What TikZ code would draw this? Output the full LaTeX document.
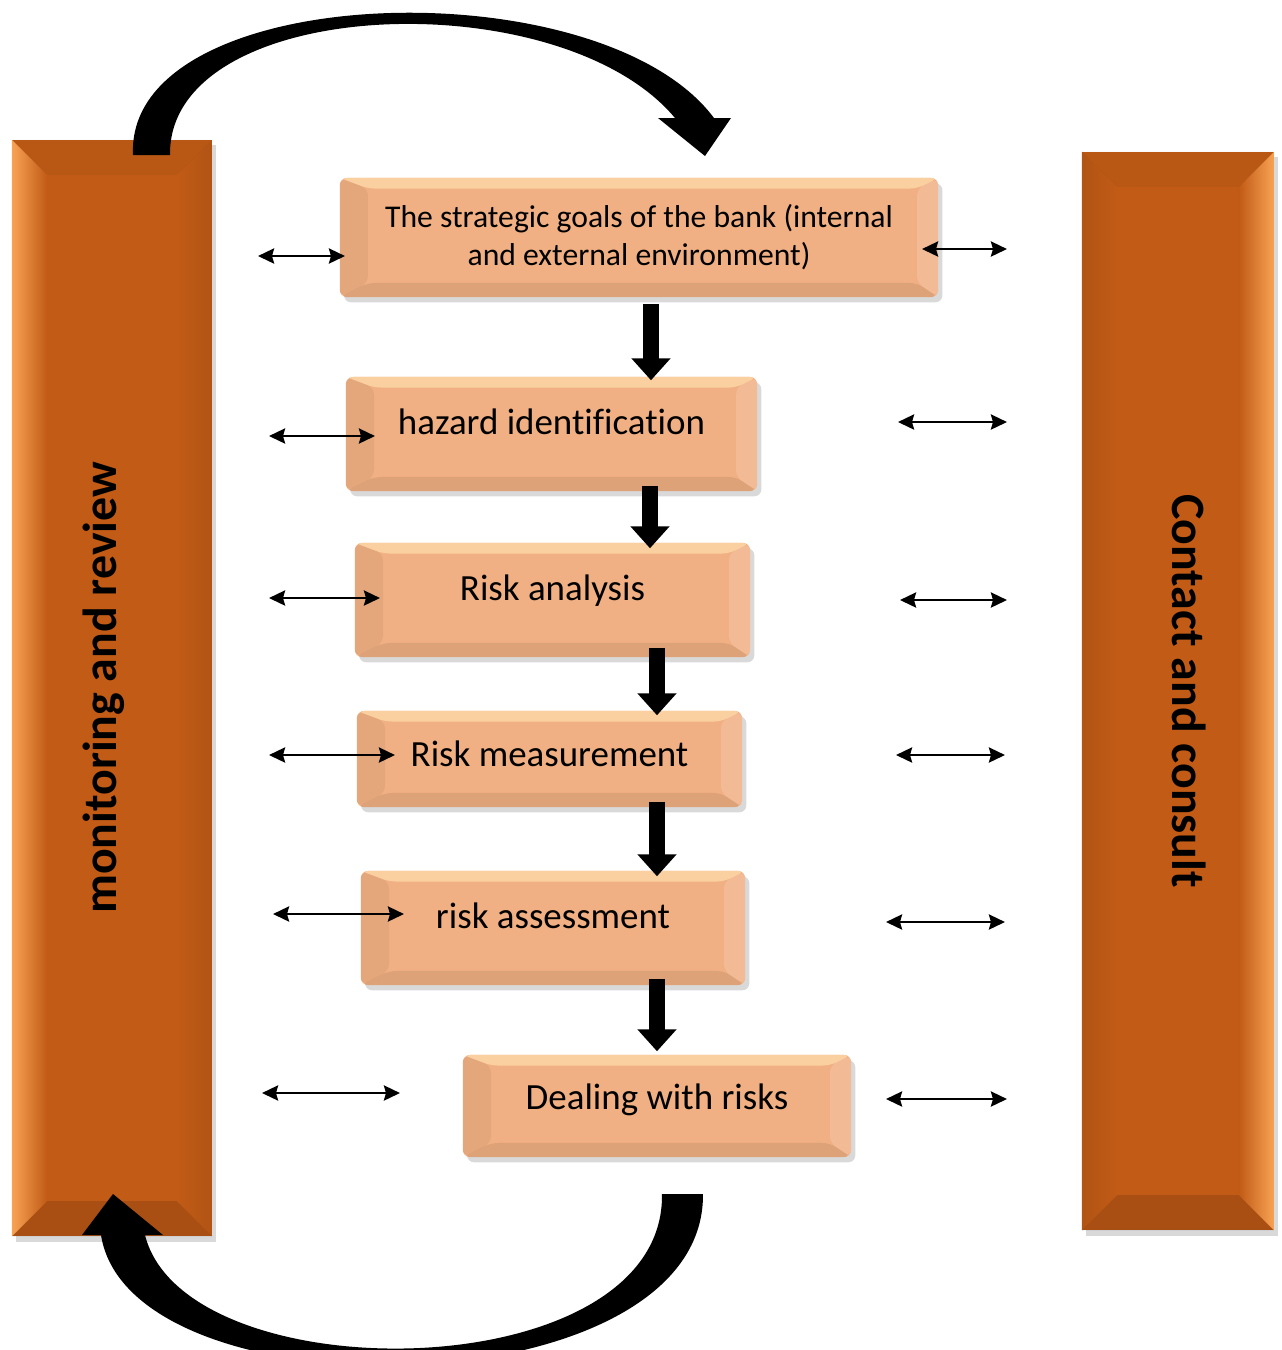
\documentclass[tikz,border=0pt]{standalone}
\usepackage{fontspec}
\setmainfont{Carlito}[Ligatures=NoCommon]
\usetikzlibrary{arrows.meta,shapes,positioning,shadows,calc}
\definecolor{barorange}{RGB}{193,91,22}
\definecolor{barlight}{RGB}{248,162,84}
\definecolor{boxpeach}{RGB}{241,176,131}
\definecolor{boxlight}{RGB}{251,208,160}
\tikzset{
  basic/.style  = {rectangle, drop shadow={opacity=.3, shadow xshift=1.2pt, shadow yshift=-1.5pt}},
  corners/.style = {insert path={
                   (path picture bounding box.north west) coordinate (pnw)
                   (path picture bounding box.north east) coordinate (pne)
                   (path picture bounding box.south west) coordinate (psw)
                   (path picture bounding box.south east) coordinate (pse)}},
  stage/.style  = {basic, rounded corners=2pt, fill=boxpeach, align=center,
                   font=\fontsize{10.5}{12.6}\selectfont, text height=2.4mm, text depth=2.4mm,
                   path picture={
                     \path[corners];
                     \fill[boxlight] (pnw) -- (pne) -- ($(pne)+(-6pt,-3pt)$) -- ($(pnw)+(8pt,-3pt)$) -- cycle;
                     \fill[black,opacity=.05] (pnw) -- ($(pnw)+(8pt,-3pt)$) -- ($(psw)+(8pt,4pt)$) -- (psw) -- cycle;
                     \fill[black,opacity=.08] (psw) -- ($(psw)+(8pt,4pt)$) -- ($(pse)+(-6pt,4pt)$) -- (pse) -- cycle;
                     \fill[white,opacity=.15] (pne) -- ($(pne)+(-6pt,-3pt)$) -- ($(pse)+(-6pt,4pt)$) -- (pse) -- cycle;
                   }},
  bar/.style 2 args = {basic, fill=barorange,
                   path picture={
                     \path[corners];
                     \shade[left color=#1, right color=barorange] (pnw) -- ($(pnw)+(10pt,-10pt)$) -- ($(psw)+(10pt,10pt)$) -- (psw) -- cycle;
                     \shade[left color=barorange, right color=#2] (pne) -- ($(pne)+(-10pt,-10pt)$) -- ($(pse)+(-10pt,10pt)$) -- (pse) -- cycle;
                     \fill[black,opacity=.04] (pnw) -- (pne) -- ($(pne)+(-10pt,-10pt)$) -- ($(pnw)+(10pt,-10pt)$) -- cycle;
                     \fill[black,opacity=.12] (psw) -- (pse) -- ($(pse)+(-10pt,10pt)$) -- ($(psw)+(10pt,10pt)$) -- cycle;
                   }},
  bar label/.style = {font=\bfseries\fontsize{13.6}{16}\selectfont},
  link/.style   = {>={Stealth[length=1.6mm,width=1.5mm,inset=0.2mm]}, <->, line width=0.8pt},
  flow/.style   = {line width=0.16cm, -{Triangle[width=0.38cm,length=0.22cm]}}
}
\begin{document}
\begin{tikzpicture}[x=0.01cm, y=-0.01cm]
  \useasboundingbox (0,0) rectangle (1282,1350);

  % the two side bars
  \node[bar={barlight}{barorange!92!black}, minimum width=2cm, minimum height=10.96cm] (lbar) at (112,688) {};
  \node[bar={barorange!92!black}{barlight}, minimum width=1.92cm, minimum height=10.78cm] (rbar) at (1178,691) {};
  \node[bar label, rotate=90] (llab) at ($(lbar)+(-8,0)$) {monitoring and review};
  \node[bar label, rotate=-90] (rlab) at ($(rbar)+(11,0)$) {Contact and consult};

  % the steps, top to bottom
  \node[stage, minimum width=5.98cm, minimum height=1.19cm, font=\fontsize{9}{10.8}\selectfont,
        text height=, text depth=] (b1) at (639,237.5)
    {The strategic goals of the bank (internal\\ and external environment)};
  \node[stage, minimum width=4.11cm, minimum height=1.14cm] (b2) at (551.5,434) {hazard identification};
  \node[stage, minimum width=3.95cm, minimum height=1.14cm] (b3) at (552.5,600) {Risk analysis};
  \node[stage, minimum width=3.85cm, minimum height=0.96cm, text depth=1mm] (b4) at (549.5,759) {Risk measurement};
  \node[stage, minimum width=3.84cm, minimum height=1.14cm] (b5) at (553,928) {risk assessment};
  \node[stage, minimum width=3.88cm, minimum height=1.02cm, text depth=1.7mm] (b6) at (657,1106) {Dealing with risks};

  % thick arrows between the steps
  \foreach \a/\b/\x/\s/\e in {b1/b2/651/6/4, b2/b3/650/-6/6, b3/b4/657/-10/5, b4/b5/657/-6/6, b5/b6/657/-7/-3} {
    \coordinate (v) at (\x,0);
    \draw[flow] ($(\a.south -| v)+(0,\s)$) -- ($(\b.north -| v)+(0,\e)$);
  }

  % double arrows, left side
  \foreach \i/\y/\p/\q in {1/256/258/345, 2/436/269/375, 3/598/269/380, 4/755/269/395, 5/914/273/404, 6/1093/262/400} {
    \coordinate (l\i a) at (\p,\y);
    \coordinate (l\i b) at (\q,\y);
    \draw[link] (l\i a) -- (l\i b);
  }
  % double arrows, right side
  \foreach \i/\y/\p/\q in {1/249/922/1007, 2/422/898/1007, 3/600/900/1007, 4/755/896/1005, 5/922/886/1005, 6/1099/886/1007} {
    \coordinate (r\i a) at (\p,\y);
    \coordinate (r\i b) at (\q,\y);
    \draw[link] (r\i a) -- (r\i b);
  }

  % curved arrow over the top
  \fill (133,155) .. controls (125,-20) and (600,-35) .. (714,118)
        -- (731,118) -- (705,156) -- (658,118) -- (675,118)
        .. controls (560,-20) and (168,-5) .. (170,155) -- cycle;
  % curved arrow under the bottom
  \fill (703,1194) .. controls (705,1410) and (130,1420) .. (101,1235)
        -- (82,1235) -- (113,1194) -- (163,1235) -- (145,1235)
        .. controls (185,1395) and (665,1390) .. (662,1194) -- cycle;
\end{tikzpicture}
\end{document}
